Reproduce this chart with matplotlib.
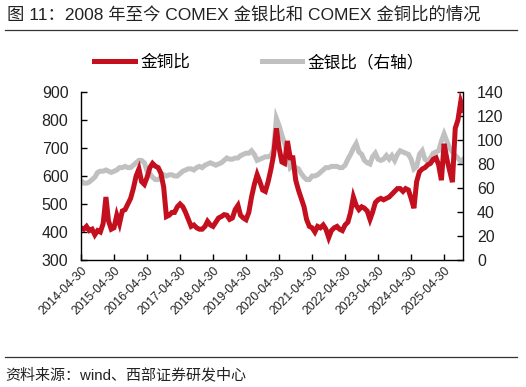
import matplotlib
matplotlib.use("Agg")
import matplotlib.pyplot as plt
import pandas as pd
from matplotlib.lines import Line2D

# ---------------- data (monthly) ----------------
start_date = "2014-04-30"
n_months = 140

gold_copper = [
    # 2014 Apr-Dec
    415, 410, 420, 405, 410, 390, 405, 400, 430,
    # 2015
    525, 440, 410, 415, 460, 430, 475, 480, 500, 520, 555, 600,
    # 2016
    625, 580, 570, 595, 630, 645, 635, 630, 610, 560, 455, 460,
    # 2017
    470, 470, 490, 500, 490, 470, 445, 420, 425, 415, 410, 410,
    # 2018
    420, 438, 425, 420, 435, 450, 455, 462, 460, 445, 450, 480,
    # 2019
    495, 460, 450, 444, 470, 525, 570, 605, 580, 550, 545, 580,
    # 2020
    625, 675, 770, 700, 650, 645, 725, 665, 665, 585, 550, 520,
    # 2021
    490, 445, 420, 415, 400, 420, 415, 425, 410, 380, 405, 415,
    # 2022
    420, 410, 405, 425, 435, 470, 525, 495, 480, 490, 485, 475,
    # 2023
    445, 470, 505, 515, 520, 515, 520, 525, 535, 545, 555, 555,
    # 2024
    545, 555, 550, 520, 485, 580, 615, 625, 630, 640, 645, 660,
    # 2025 Jan-Nov
    665, 640, 585, 715, 660, 620, 578, 770, 800, 865, 835,
]

gold_silver = [
    # 2014 Apr-Dec
    66, 64, 64, 65, 67, 69, 73, 74, 74,
    # 2015
    75, 74, 73, 74, 75, 77, 77, 78, 77, 77, 79, 81,
    # 2016
    83, 83, 81, 74, 72, 69, 67, 67, 69, 71, 70, 71,
    # 2017
    71, 70, 70, 72, 74, 75, 76, 76, 75, 77, 78, 77,
    # 2018
    79, 80, 81, 80, 79, 80, 81, 83, 85, 84, 84, 85,
    # 2019
    85, 87, 88, 89, 89, 91, 88, 83, 84, 85, 86, 86,
    # 2020
    87, 92, 118, 112, 104, 97, 88, 77, 79, 77, 76, 72,
    # 2021
    69, 67, 67, 70, 70, 71, 73, 75, 77, 77, 78, 78,
    # 2022
    78, 77, 77, 79, 84, 88, 93, 97, 90, 88, 83, 81,
    # 2023
    80, 86, 89, 84, 83, 84, 87, 84, 87, 83, 88, 91,
    # 2024
    90, 89, 88, 84, 76, 78, 88, 91, 84, 82, 85, 89,
    # 2025 Jan-Nov
    90, 91, 99, 105, 99, 93, 90, 87, 85, 82, 84,
]

tick_years = list(range(2014, 2026))
left_ticks = [300, 400, 500, 600, 700, 800, 900]
right_ticks = [0, 20, 40, 60, 80, 100, 120, 140]

title_text = "图 11：2008 年至今 COMEX 金银比和 COMEX 金铜比的情况"
source_text = "资料来源：wind、西部证券研发中心"
label_cu = "金铜比"
label_ag = "金银比（右轴）"

# ---------------- plot ----------------
FAM = ["Liberation Sans", "Noto Sans CJK SC"]
plt.rcParams["font.family"] = FAM

RED = "#C40F1E"
GRAY = "#C0C0C0"
TXT = "#222222"
LW = 3.6

dates = pd.date_range(start_date, periods=n_months, freq="ME")

fig = plt.figure(figsize=(5.26, 3.87), dpi=100)
ax = fig.add_axes([81 / 526, 1 - 260 / 387, (463 - 81) / 526, (260 - 92) / 387])
ax2 = ax.twinx()

ax2.plot(dates, gold_silver, color=GRAY, lw=LW, solid_joinstyle="miter", zorder=1)
ax.plot(dates, gold_copper, color=RED, lw=LW, solid_joinstyle="miter", zorder=2)
# red on top of gray
ax.set_zorder(ax2.get_zorder() + 1)
ax.patch.set_visible(False)

ax.set_xlim(pd.Timestamp("2014-04-30"), pd.Timestamp("2025-11-25"))
ax.set_ylim(300, 900)
ax2.set_ylim(0, 140)
ax.set_yticks(left_ticks)
ax2.set_yticks(right_ticks)

ticks = [pd.Timestamp(f"{y}-04-30") for y in tick_years]
ax.set_xticks(ticks)
ax.set_xticklabels([t.strftime("%Y-%m-%d") for t in ticks], rotation=45,
                   ha="right", rotation_mode="anchor", fontsize=8.8, color=TXT)

for a in (ax, ax2):
    a.spines["top"].set_visible(False)
    for s in ("left", "right", "bottom"):
        a.spines[s].set_color("#000000")
        a.spines[s].set_linewidth(1.0)
ax.spines["right"].set_visible(False)
ax2.spines["left"].set_visible(False)
ax2.spines["bottom"].set_visible(False)

ax.tick_params(axis="y", direction="in", length=4, width=1, labelsize=11.5,
               labelcolor=TXT, pad=9)
ax.tick_params(axis="x", direction="in", length=4, width=1, pad=3)
ax2.tick_params(axis="y", direction="in", length=4, width=1, labelsize=11.5,
                labelcolor=TXT, pad=10)

# legend
handles = [Line2D([], [], color=RED, lw=LW), Line2D([], [], color=GRAY, lw=LW)]
fig.legend(handles, [label_cu, label_ag], loc="center", bbox_to_anchor=(259 / 526, 1 - 62 / 387),
           ncol=2, frameon=False, fontsize=12, handlelength=2.45, handletextpad=0.3,
           columnspacing=4.3)

# title, rules, source
fig.text(7 / 526, 1 - 14 / 387, title_text, fontsize=12.5, color=TXT, va="center", ha="left")
fig.add_artist(Line2D([5 / 526, 517 / 526], [1 - 30 / 387, 1 - 30 / 387], color="#333333", lw=0.9))
fig.add_artist(Line2D([5 / 526, 517 / 526], [1 - 357 / 387, 1 - 357 / 387], color="#333333", lw=0.9))
fig.text(5 / 526, 1 - 375 / 387, source_text, fontsize=10.8, color=TXT, va="center", ha="left")

fig.savefig("out.png", dpi=100)
